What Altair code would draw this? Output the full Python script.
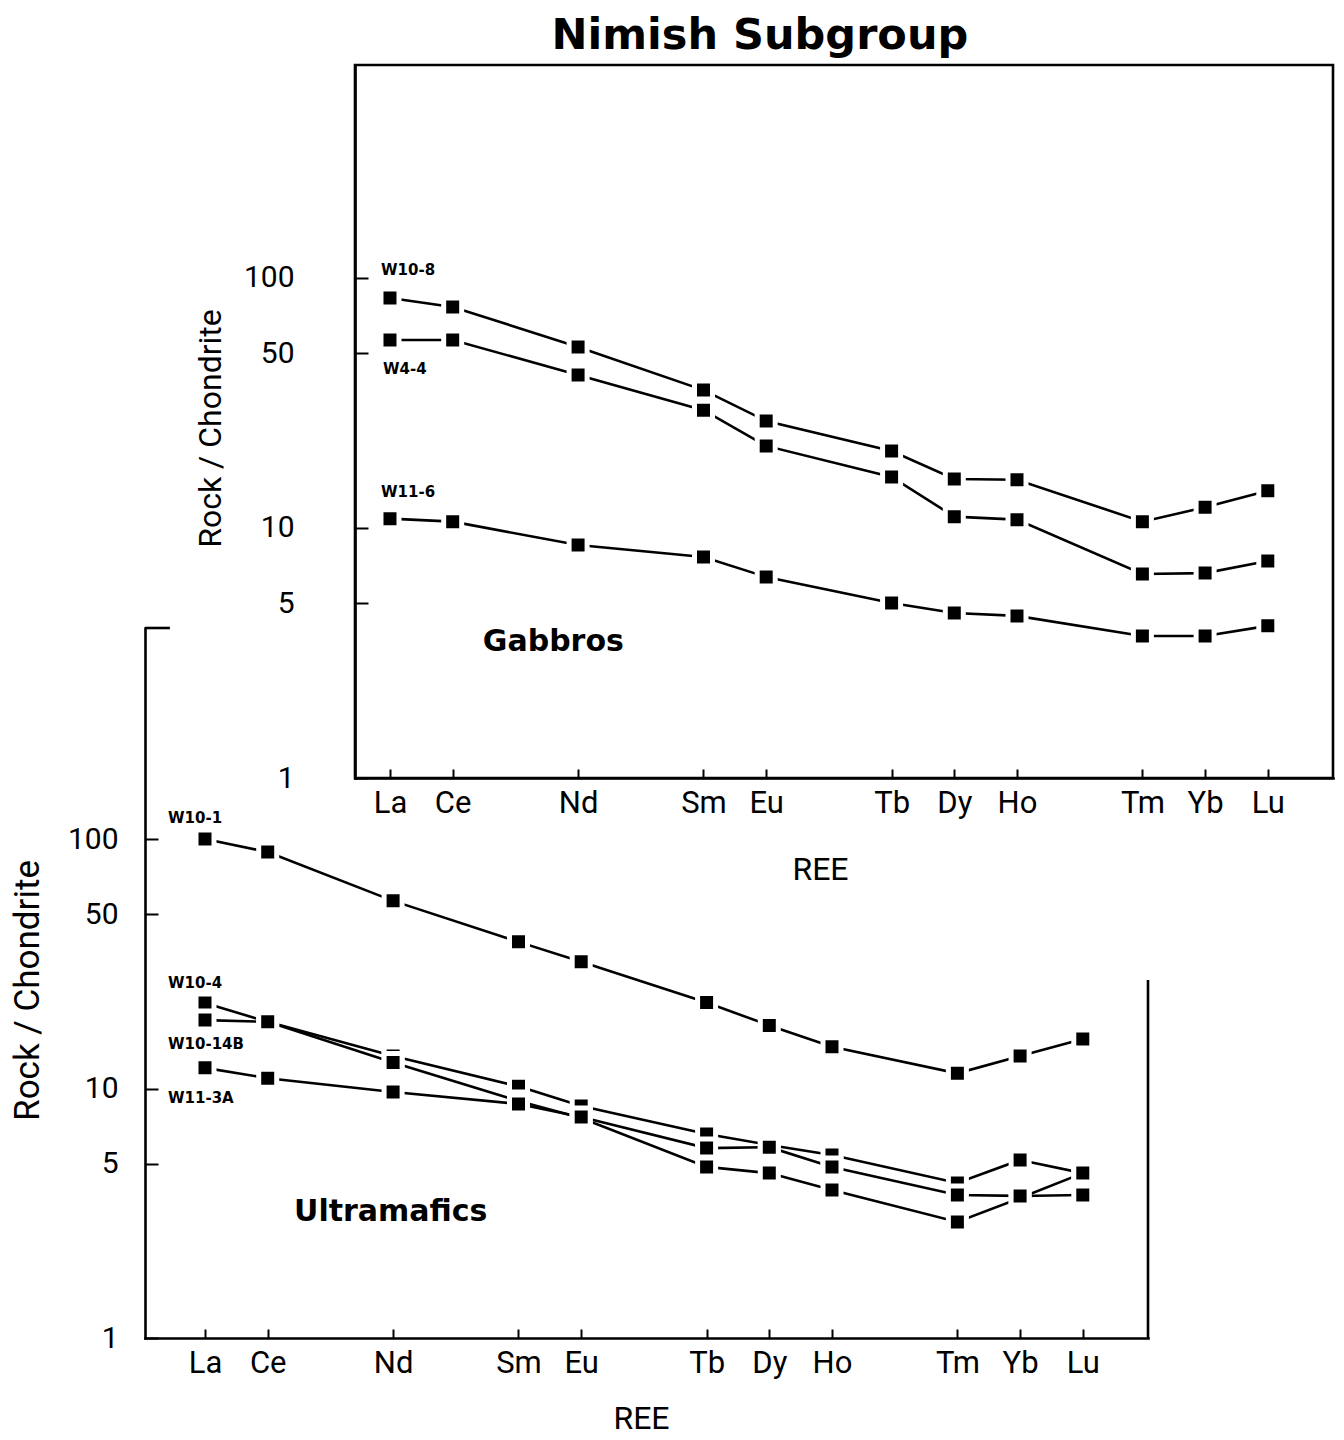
import altair as alt
import pandas as pd

# ---------------- data ----------------
elements = ["La", "Ce", "Nd", "Sm", "Eu", "Tb", "Dy", "Ho", "Tm", "Yb", "Lu"]
atomic_numbers = [57, 58, 60, 62, 63, 65, 66, 67, 69, 70, 71]
y_tick_values = [1, 5, 10, 50, 100]

gabbro_samples = ["W10-8", "W4-4", "W11-6"]
w10_8 = [83.2, 76.6, 53.0, 35.6, 26.8, 20.3, 15.7, 15.6, 10.6, 12.1, 14.1]
w4_4 = [56.5, 56.5, 40.9, 29.6, 21.3, 16.0, 11.1, 10.8, 6.55, 6.6, 7.38]
w11_6 = [10.9, 10.6, 8.55, 7.66, 6.37, 5.01, 4.57, 4.45, 3.70, 3.70, 4.06]

ultramafic_samples = ["W10-1", "W10-4", "W10-14B", "W11-3A"]
w10_1 = [100, 88.7, 56.5, 38.7, 32.2, 22.1, 17.9, 14.7, 11.5, 13.5, 15.8]
w10_4 = [22.0, 18.5, 13.5, 10.2, 8.51, 6.57, 5.94, 5.41, 4.18, 5.17, 4.58]
w10_14b = [18.8, 18.5, 12.7, 8.91, 7.62, 4.85, 4.58, 3.92, 2.92, 3.64, 4.58]
w11_3a = [12.1, 11.0, 9.68, 8.67, 7.69, 5.77, 5.82, 4.85, 3.74, 3.71, 3.74]

panel_names = ["Gabbros", "Ultramafics"]
main_title = "Nimish Subgroup"
x_title = "REE"
y_title = "Rock / Chondrite"

# ---------------- layout ----------------
W, H = 1328, 1428
LABEL_FONT = "Roboto"
BOLD_FONT = "DejaVu Sans"

label_expr = "{" + ",".join(f"'{z}':'{e}'" for z, e in zip(atomic_numbers, elements)) + "}[datum.value]"


def long_df(samples, series):
    rows = []
    for s, vals in zip(samples, series):
        for el, z, v in zip(elements, atomic_numbers, vals):
            rows.append({"sample": s, "element": el, "z": z, "value": v})
    return pd.DataFrame(rows)


def make_panel(df, xdom, xrng, ydom, yrng, ylab_pad, ytitle_x, ytitle_y, ytitle_size,
               xtitle_x, xtitle_y, labels, panel_name, panel_pos, frame_full,
               right_edge_from=None, top_stub_to=None, heading=None):
    xs = alt.Scale(domain=xdom, range=xrng, nice=False, zero=False)
    ys = alt.Scale(type="log", domain=ydom, range=yrng, nice=False)
    x_line_y = yrng[0]
    y_line_x = xrng[0]

    x_main = alt.Axis(orient="bottom", offset=x_line_y - H, values=atomic_numbers,
                      labelExpr=label_expr, ticks=False, tickSize=0, domain=True,
                      domainColor="black", domainWidth=2.6, domainCap="square", grid=False,
                      labelFont=LABEL_FONT, labelFontSize=31, labelColor="black",
                      labelPadding=10, labelFlush=False, labelOverlap=False,
                      title=x_title, titleFont=LABEL_FONT, titleFontSize=32,
                      titleFontWeight="normal", titleColor="black", titleX=xtitle_x,
                      titleY=xtitle_y, titleBaseline="middle", titleAlign="center")
    y_main = alt.Axis(orient="left", offset=-y_line_x, values=y_tick_values, format="d",
                      ticks=False, tickSize=0, domain=True, domainColor="black",
                      domainWidth=2.6, domainCap="square", grid=False,
                      labelFont=LABEL_FONT, labelFontSize=30, labelColor="black",
                      labelPadding=ylab_pad, labelOverlap=False, labelFlush=False,
                      title=y_title, titleFont=LABEL_FONT, titleFontSize=ytitle_size,
                      titleFontWeight="normal", titleColor="black", titleAngle=270,
                      titleX=ytitle_x, titleY=ytitle_y, titleAlign="center",
                      titleBaseline="middle")
    x_ticks = alt.Axis(orient="top", offset=-x_line_y, values=atomic_numbers, labels=False,
                       domain=False, ticks=True, tickSize=9, tickWidth=2,
                       tickColor="black", grid=False, title=None)
    y_ticks = alt.Axis(orient="right", offset=y_line_x - W, values=y_tick_values,
                       labels=False, domain=False, ticks=True, tickSize=13, tickWidth=2,
                       tickColor="black", grid=False, title=None)

    layers = []
    if frame_full:
        fdf = pd.DataFrame([{"x0": xdom[0], "x1": xdom[1], "y0": ydom[0], "y1": ydom[1]}])
        layers.append(alt.Chart(fdf).mark_rect(fillOpacity=0, stroke="black",
                                               strokeWidth=2.6).encode(
            x=alt.X("x0:Q", scale=xs, axis=None), x2="x1:Q",
            y=alt.Y("y0:Q", scale=ys, axis=None), y2="y1:Q"))
    if right_edge_from is not None:
        rdf = pd.DataFrame([{"x": xdom[1], "y0": ydom[0], "y1": right_edge_from}])
        layers.append(alt.Chart(rdf).mark_rule(color="black", strokeWidth=2.6).encode(
            x=alt.X("x:Q", scale=xs, axis=None),
            y=alt.Y("y0:Q", scale=ys, axis=None), y2="y1:Q"))
    if top_stub_to is not None:
        tdf = pd.DataFrame([{"x0": xdom[0], "x1": top_stub_to, "y": ydom[1]}])
        layers.append(alt.Chart(tdf).mark_rule(color="black", strokeWidth=2.6).encode(
            x=alt.X("x0:Q", scale=xs, axis=None), x2="x1:Q",
            y=alt.Y("y:Q", scale=ys, axis=None)))

    lines = alt.Chart(df).mark_line(color="black", strokeWidth=2.6).encode(
        x=alt.X("z:Q", scale=xs, axis=x_main),
        y=alt.Y("value:Q", scale=ys, axis=y_main),
        detail="sample:N", order="z:Q")
    points = alt.Chart(df).mark_point(shape="square", filled=True, size=324, fill="black",
                                      stroke="white", strokeWidth=5, opacity=1,
                                      fillOpacity=1, strokeOpacity=1).encode(
        x=alt.X("z:Q", scale=xs, axis=x_ticks),
        y=alt.Y("value:Q", scale=ys, axis=y_ticks))
    layers += [lines, points]

    for name, val, dx, dy in labels:
        ldf = pd.DataFrame([{"sample": name, "z": atomic_numbers[0], "value": val}])
        layers.append(alt.Chart(ldf).mark_text(align="left", baseline="middle", dx=dx, dy=dy,
                                               font=BOLD_FONT, fontWeight="bold",
                                               fontSize=15, color="black").encode(
            x=alt.X("z:Q", scale=xs, axis=None),
            y=alt.Y("value:Q", scale=ys, axis=None), text="sample:N"))

    pdf = pd.DataFrame([{"name": panel_name, "z": panel_pos[0], "value": panel_pos[1]}])
    layers.append(alt.Chart(pdf).mark_text(align="left", baseline="alphabetic",
                                           font=BOLD_FONT, fontWeight="bold", fontSize=30,
                                           color="black").encode(
        x=alt.X("z:Q", scale=xs, axis=None),
        y=alt.Y("value:Q", scale=ys, axis=None), text="name:N"))

    if heading is not None:
        hdf = pd.DataFrame([{"name": heading[0], "z": heading[1], "value": heading[2]}])
        layers.append(alt.Chart(hdf).mark_text(align="center", baseline="alphabetic",
                                               font=BOLD_FONT, fontWeight="bold",
                                               fontSize=43, color="black").encode(
            x=alt.X("z:Q", scale=xs, axis=None),
            y=alt.Y("value:Q", scale=ys, axis=None), text="name:N"))

    return alt.layer(*layers).resolve_axis(x="independent", y="independent")


gabbro_df = long_df(gabbro_samples, [w10_8, w4_4, w11_6])
ultra_df = long_df(ultramafic_samples, [w10_1, w10_4, w10_14b, w11_3a])

top_panel = make_panel(
    gabbro_df, xdom=[56.442, 72.04], xrng=[347, 1325], ydom=[1, 711], yrng=[770, 57],
    ylab_pad=61, ytitle_x=-145, ytitle_y=420, ytitle_size=32,
    xtitle_x=812, xtitle_y=91,
    labels=[(gabbro_samples[0], w10_8[0], -9, -28), (gabbro_samples[1], w4_4[0], -7, 29),
            (gabbro_samples[2], w11_6[0], -9, -27)],
    panel_name=panel_names[0], panel_pos=(58.48, 3.22), frame_full=True,
    heading=(main_title, 62.90, 824))

bottom_panel = make_panel(
    ultra_df, xdom=[56.043, 72.04], xrng=[137, 1140], ydom=[1, 701], yrng=[1330, 620],
    ylab_pad=27, ytitle_x=-118, ytitle_y=982, ytitle_size=35,
    xtitle_x=633, xtitle_y=80,
    labels=[(ultramafic_samples[0], w10_1[0], -37, -21),
            (ultramafic_samples[1], w10_4[0], -37, -20),
            (ultramafic_samples[2], w10_14b[0], -37, 24),
            (ultramafic_samples[3], w11_3a[0], -37, 30)],
    panel_name=panel_names[1], panel_pos=(58.42, 2.94), frame_full=False,
    right_edge_from=27.2, top_stub_to=56.44)

chart = alt.layer(bottom_panel, top_panel).resolve_scale(
    x="independent", y="independent"
).properties(
    width=W, height=H, padding=0,
    autosize=alt.AutoSizeParams(type="none"),
    background="white",
).configure_view(strokeWidth=0)

chart.save("out.html", embed_options={"renderer": "svg", "actions": False})
